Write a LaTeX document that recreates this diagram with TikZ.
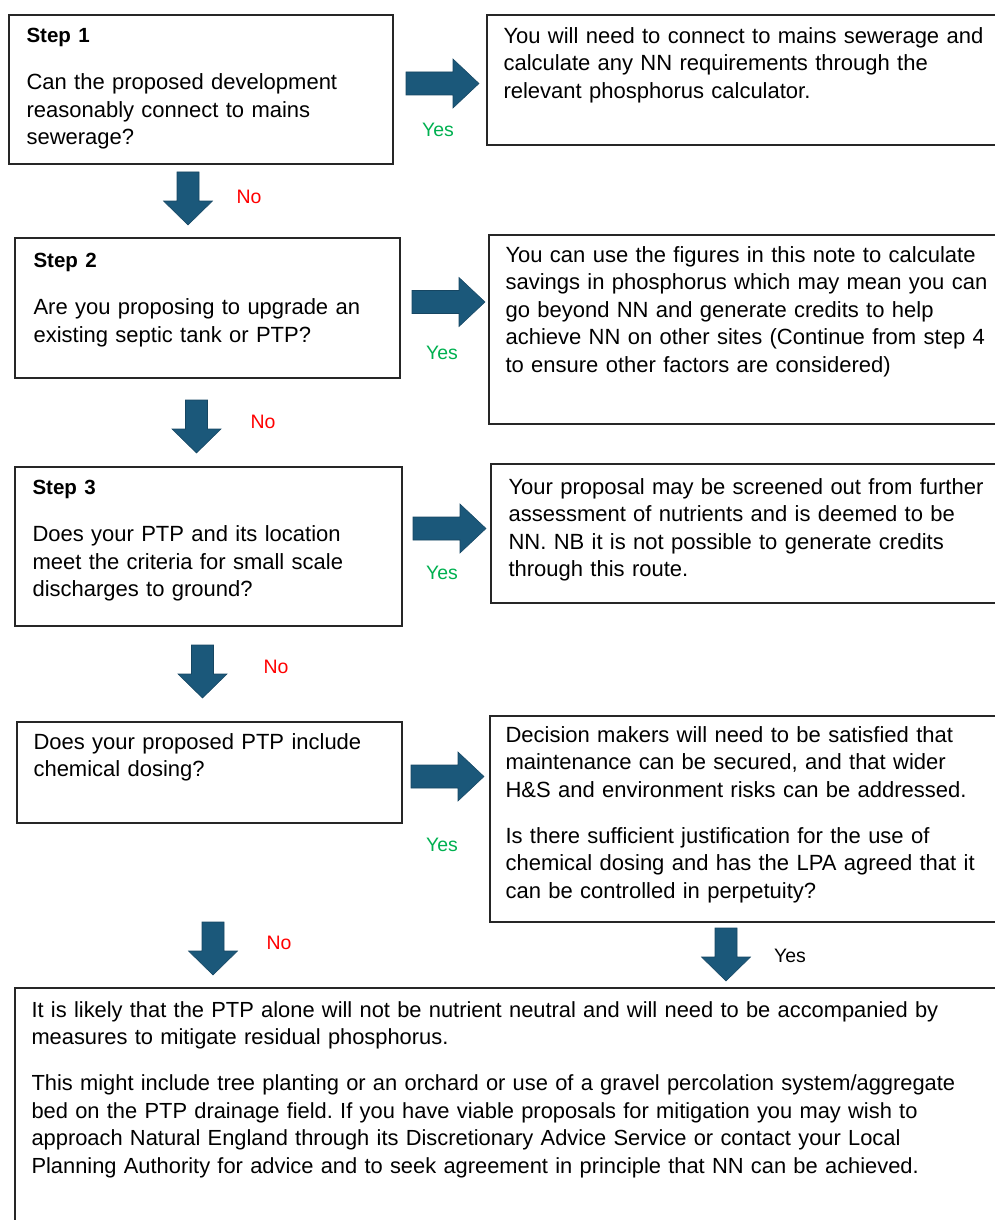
\documentclass[tikz,border=0pt]{standalone}
\usepackage{fontspec}
\setmainfont{Liberation Sans}
\usetikzlibrary{positioning, calc, fit}

\definecolor{arrowblue}{RGB}{27,88,122}
\definecolor{noRed}{RGB}{255,0,0}
\definecolor{yesGreen}{RGB}{0,176,80}

\newcommand{\steptitle}[1]{{\fontsize{15.4}{18}\selectfont\bfseries #1}}
\frenchspacing

\begin{document}
\begin{tikzpicture}[
    x=0.75pt, y=-0.75pt,
    box/.style={rectangle, draw=black!85, line width=1.1pt, inner sep=0pt},
    txt/.style={anchor=base west, inner sep=0pt, text width=760pt, align=left, font=\fontsize{16.5}{20.6}\selectfont},
    lbl/.style={inner sep=0pt, font=\fontsize{14.6}{17}\selectfont},
    rarrow/.pic={\fill[arrowblue, draw=arrowblue!80!black, line width=0.4pt] (0,-11.5) -- (47,-11.5) -- (47,-24.5) -- (73,0) -- (47,24.5) -- (47,11.5) -- (0,11.5) -- cycle;},
    darrow/.pic={\fill[arrowblue, draw=arrowblue!80!black, line width=0.4pt] (-11,0) -- (-11,29) -- (-24.5,29) -- (0,53) -- (24.5,29) -- (11,29) -- (11,0) -- cycle;}
]
    \useasboundingbox (0,0) rectangle (995,1220);
    \clip (0,0) rectangle (995,1220);

    % Question boxes
    \node[box, fit={(9,15) (393,164)}] (s1) {};
    \node[box, fit={(15,238) (400,378)}] (s2) {};
    \node[box, fit={(15,467) (402,626)}] (s3) {};
    \node[box, fit={(17,722) (402,823)}] (s4) {};

    % Answer boxes
    \node[box, fit={(487,15) (1005,145)}] (r1) {};
    \node[box, fit={(489,235) (1005,424)}] (r2) {};
    \node[box, fit={(491,464) (1005,603)}] (r3) {};
    \node[box, fit={(490,716) (1005,922)}] (r4) {};
    \node[box, fit={(15,988) (1005,1235)}] (fin) {};

    % Texts
    \node[txt] (s1text) at ($(s1.north west)+(18,28)$) {\steptitle{Step 1}\\[15pt]
        Can the proposed development\\ reasonably connect to mains\\ sewerage?};
    \node[txt] (s2text) at ($(s2.north west)+(19,30)$) {\steptitle{Step 2}\\[15pt]
        Are you proposing to upgrade an\\ existing septic tank or PTP?};
    \node[txt] (s3text) at ($(s3.north west)+(18,28)$) {\steptitle{Step 3}\\[15pt]
        Does your PTP and its location\\ meet the criteria for small scale\\ discharges to ground?};
    \node[txt] (s4text) at ($(s4.north west)+(17,28)$) {Does your proposed PTP include\\ chemical dosing?};

    \node[txt] (r1text) at ($(r1.north west)+(17,29)$) {You will need to connect to mains sewerage and\\
        calculate any NN requirements through the\\ relevant phosphorus calculator.};
    \node[txt] (r2text) at ($(r2.north west)+(17,28)$) {You can use the figures in this note to calculate\\
        savings in phosphorus which may mean you can\\ go beyond NN and generate credits to help\\
        achieve NN on other sites (Continue from step 4\\ to ensure other factors are considered)};
    \node[txt] (r3text) at ($(r3.north west)+(18,31)$) {Your proposal may be screened out from further\\
        assessment of nutrients and is deemed to be\\ NN. NB it is not possible to generate credits\\
        through this route.};
    \node[txt] (r4text) at ($(r4.north west)+(16,27)$) {Decision makers will need to be satisfied that\\
        maintenance can be secured, and that wider\\ H\&S and environment risks can be addressed.\\[14pt]
        Is there sufficient justification for the use of\\ chemical dosing and has the LPA agreed that it\\
        can be controlled in perpetuity?};
    \node[txt, font=\fontsize{16.4}{20.6}\selectfont] (fintext) at ($(fin.north west)+(17,30)$) {It is likely that the PTP alone will not be nutrient neutral and will need to be accompanied by\\
        measures to mitigate residual phosphorus.\\[14pt]
        This might include tree planting or an orchard or use of a gravel percolation system/aggregate\\
        bed on the PTP drainage field. If you have viable proposals for mitigation you may wish to\\
        approach Natural England through its Discretionary Advice Service or contact your Local\\
        Planning Authority for advice and to seek agreement in principle that NN can be achieved.};

    % Block arrows
    \foreach \ax/\ay in {406/83.5, 412/302, 413/528.5, 411/776.5}
        \pic at (\ax,\ay) {rarrow};
    \foreach \ax/\ay in {188/172, 196.5/400, 202.5/645, 213/922, 726/928}
        \pic at (\ax,\ay) {darrow};

    % Labels
    \node[lbl, noRed] (no1) at (249,197) {No};
    \node[lbl, noRed] (no2) at (263,422) {No};
    \node[lbl, noRed] (no3) at (276,667) {No};
    \node[lbl, noRed] (no4) at (279,943) {No};
    \node[lbl, yesGreen] (yes1) at (438,130) {Yes};
    \node[lbl, yesGreen] (yes2) at (442,353) {Yes};
    \node[lbl, yesGreen] (yes3) at (442,573) {Yes};
    \node[lbl, yesGreen] (yes4) at (442,845) {Yes};
    \node[lbl] (yes5) at (790,956) {Yes};

\end{tikzpicture}
\end{document}
